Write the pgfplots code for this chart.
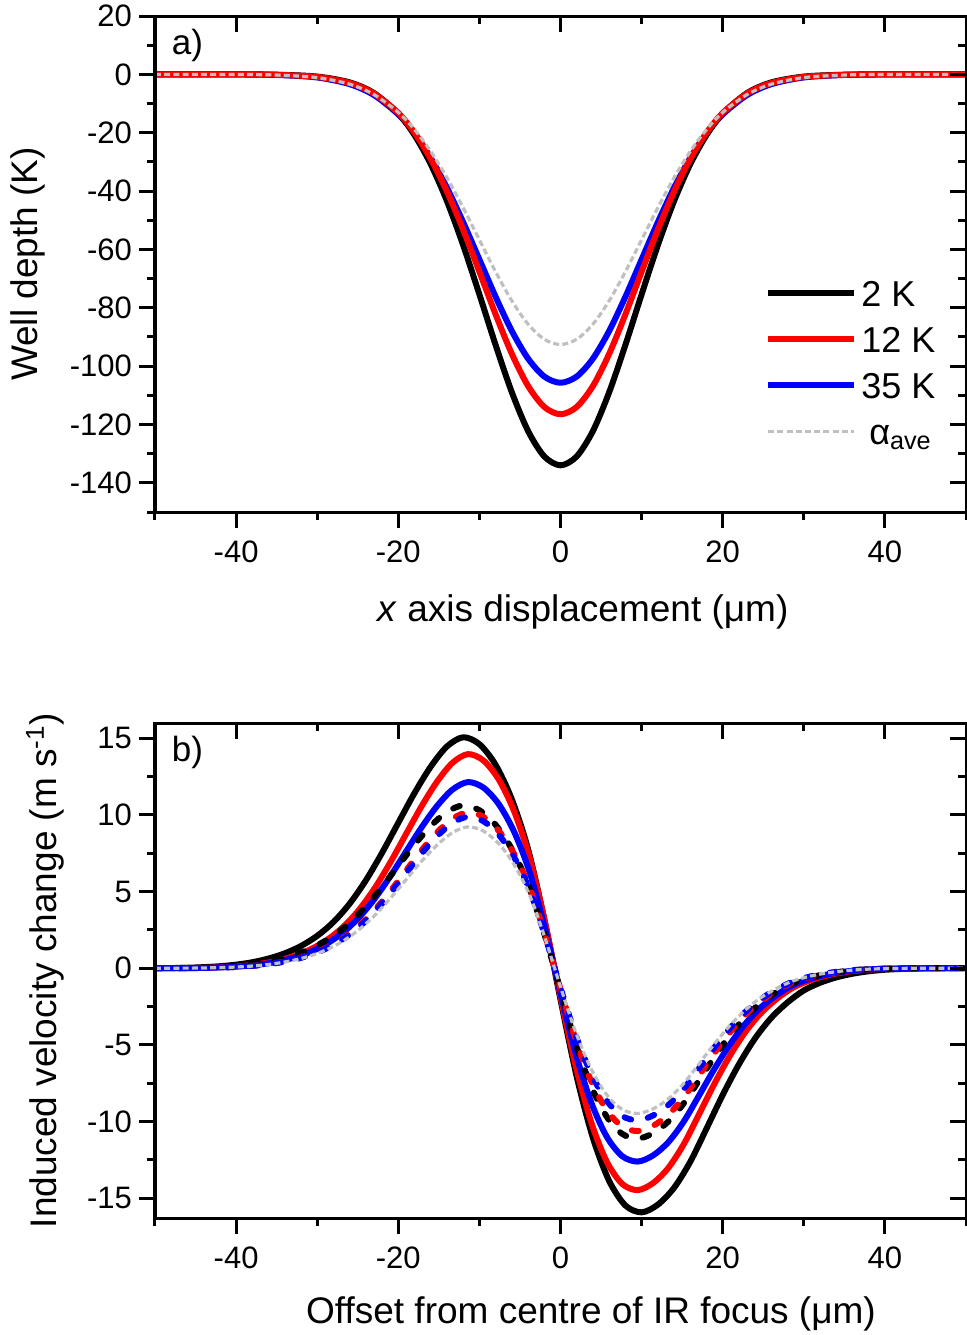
\documentclass[border=0pt]{standalone}
\usepackage{fontspec}
\setmainfont{Liberation Sans}
\usepackage{pgfplots}
\usepackage{pgfplotstable}
\pgfplotsset{compat=1.18}
\definecolor{agray}{HTML}{C0C0C0}
% top panel: well depth (K)
\pgfplotstableread{
x    k2       k12      k35      kave
-50  0        0        0        0
-45  0        0        0        0
-40  -0.01    -0.02    -0.03    -0.04
-35  -0.12    -0.15    -0.20    -0.23
-30  -0.76    -0.88    -1.07    -1.12
-26  -2.75    -2.96    -3.36    -3.37
-23  -6.41    -6.57    -7.11    -6.93
-20  -13.45   -13.25   -13.73   -13.03
-18  -20.82   -20.02   -20.24   -18.92
-16  -30.77   -28.98   -28.63   -26.40
-14  -43.44   -40.15   -38.88   -35.43
-12  -58.57   -53.26   -50.70   -45.71
-10  -75.43   -67.65   -63.46   -56.72
-8   -92.76   -82.27   -76.25   -67.66
-6   -108.96  -95.80   -87.96   -77.62
-4   -122.23  -106.80  -97.41   -85.61
-2   -130.95  -113.99  -103.57  -90.80
0    -134.0   -116.5   -105.7   -92.6
2    -130.95  -113.99  -103.57  -90.80
4    -122.23  -106.80  -97.41   -85.61
6    -108.96  -95.80   -87.96   -77.62
8    -92.76   -82.27   -76.25   -67.66
10   -75.43   -67.65   -63.46   -56.72
12   -58.57   -53.26   -50.70   -45.71
14   -43.44   -40.15   -38.88   -35.43
16   -30.77   -28.98   -28.63   -26.40
18   -20.82   -20.02   -20.24   -18.92
20   -13.45   -13.25   -13.73   -13.03
23   -6.41    -6.57    -7.11    -6.93
26   -2.75    -2.96    -3.36    -3.37
30   -0.76    -0.88    -1.07    -1.12
35   -0.12    -0.15    -0.20    -0.23
40   -0.01    -0.02    -0.03    -0.04
45   0        0        0        0
50   0        0        0        0
}\welltable
% bottom panel: velocity change (m/s); xa for 2 K solid, xb for the others, xc for 2 K dashed
\pgfplotstableread{
xa   xb     xc     bs      rs       us       bd       rd       ud       g
-50  -50    -50    0       0        0        0        0        0        0
-48  -45.6  -48    0.01    0.009    0.008    0.007    0.007    0.007    0.006
-46  -43.7  -46    0.03    0.028    0.024    0.021    0.020    0.020    0.018
-44  -41.8  -44    0.07    0.065    0.056    0.049    0.047    0.046    0.043
-42  -39.9  -42    0.13    0.121    0.105    0.092    0.088    0.085    0.080
-40  -38    -40    0.23    0.213    0.185    0.162    0.155    0.151    0.141
-38  -36.1  -38    0.39    0.362    0.314    0.275    0.263    0.256    0.239
-36  -34.2  -36    0.63    0.584    0.508    0.444    0.425    0.413    0.386
-34  -32.3  -34    0.97    0.899    0.782    0.684    0.655    0.636    0.594
-32  -30.4  -32    1.45    1.344    1.169    1.022    0.979    0.951    0.887
-30  -28.5  -30    2.11    1.956    1.701    1.488    1.424    1.384    1.291
-28  -26.6  -28    3.01    2.790    2.426    2.122    2.032    1.975    1.842
-26  -24.7  -26    4.21    3.903    3.393    2.968    2.842    2.762    2.577
-24  -22.8  -24    5.73    5.312    4.618    4.040    3.868    3.759    3.507
-22  -20.9  -22    7.53    6.980    6.069    5.309    5.083    4.940    4.608
-20  -19    -20    9.49    8.797    7.649    6.690    6.406    6.225    5.808
-18  -17.1  -18    11.43   10.596   9.213    8.058    7.715    7.498    6.995
-16  -15.2  -16    13.15   12.190   10.599   9.271    8.876    8.626    8.048
-14  -13.3  -14    14.47   13.414   11.663   10.201   9.767    9.492    8.856
-12  -11.4  -12    15.07   13.970   12.146   10.624   10.172   9.886    9.223
-10  -9.5   -10    14.62   13.553   11.784   10.307   9.869    9.591    8.947
-8   -7.6   -8     13.27   12.301   10.696   9.355    8.957    8.705    8.121
-6   -5.7   -6     11.02   10.216   8.882    7.769    7.439    7.229    6.744
-4   -3.8   -4     7.77    7.203    6.263    5.478    5.245    5.097    4.755
-2   -1.9   -2     3.20    2.966    2.579    2.256    2.160    2.099    1.958
0    0      0      -2.05   -1.863   -1.624   -1.431   -1.367   -1.277   -1.220
2    1.9    1.9    -7.08   -6.436   -5.607   -4.942   -4.722   -4.411   -4.213
4    3.8    3.8    -11.08  -10.072  -8.775   -7.734   -7.390   -6.903   -6.593
6    5.7    5.7    -13.88  -12.617  -10.993  -9.688   -9.258   -8.647   -8.259
8    7.6    7.6    -15.48  -14.071  -12.260  -10.805  -10.325  -9.644   -9.211
10   9.5    9.5    -15.93  -14.480  -12.617  -11.119  -10.625  -9.924   -9.478
12   11.4   11.4   -15.43  -14.026  -12.221  -10.770  -10.292  -9.613   -9.181
14   13.3   13.3   -14.33  -13.026  -11.349  -10.002  -9.558   -8.928   -8.526
16   15.2   15.2   -12.63  -11.481  -10.003  -8.816   -8.424   -7.868   -7.515
18   17.1   17.1   -10.47  -9.517   -8.292   -7.308   -6.983   -6.523   -6.230
20   19     19     -8.27   -7.517   -6.550   -5.772   -5.516   -5.152   -4.921
22   20.9   20.9   -6.27   -5.699   -4.966   -4.376   -4.182   -3.906   -3.731
24   22.8   22.8   -4.57   -4.154   -3.619   -3.190   -3.048   -2.847   -2.719
26   24.7   24.7   -3.23   -2.936   -2.558   -2.255   -2.154   -2.012   -1.922
28   26.6   26.6   -2.23   -2.027   -1.766   -1.557   -1.487   -1.389   -1.327
30   28.5   28.5   -1.45   -1.318   -1.148   -1.012   -0.967   -0.903   -0.863
32   30.4   30.4   -0.95   -0.864   -0.752   -0.663   -0.634   -0.592   -0.565
34   32.3   32.3   -0.60   -0.545   -0.475   -0.419   -0.400   -0.374   -0.357
36   34.2   34.2   -0.36   -0.327   -0.285   -0.251   -0.240   -0.224   -0.214
38   36.1   36.1   -0.20   -0.182   -0.158   -0.140   -0.133   -0.125   -0.119
40   38     38     -0.10   -0.091   -0.079   -0.070   -0.067   -0.062   -0.060
42   39.9   39.9   -0.05   -0.045   -0.040   -0.035   -0.033   -0.031   -0.030
44   41.8   41.8   -0.02   -0.018   -0.016   -0.014   -0.013   -0.012   -0.012
46   43.7   43.7   -0.01   -0.009   -0.008   -0.007   -0.007   -0.006   -0.006
48   45.6   45.6   0       0        0        0        0        0        0
50   50     50     0       0        0        0        0        0        0
}\veltable
\pgfplotsset{
  base/.style={
    scale only axis, width=405.5pt,
    xmin=-50, xmax=50,
    axis line style={line width=1.5pt},
    tick style={line width=1.5pt, black},
    major tick length=8pt, minor tick length=4pt,
    tick label style={font=\fontsize{15.5}{17}\selectfont},
    xticklabel style={yshift=-3pt},
    /pgf/number format/assume math mode=true,
    xtick={-40,-20,0,20,40}, minor xtick={-50,-30,-10,10,30,50},
    label style={font=\fontsize{18.5}{21}\selectfont},
  },
  topy/.style={height=248pt, ymin=-150, ymax=20, ytick={-140,-120,...,20}, minor ytick={-150,-130,...,10}},
  boty/.style={height=247.5pt, ymin=-16.3, ymax=16, ytick={-15,-10,...,15}, minor ytick={-12.5,-7.5,...,12.5}},
  sol/.style={line width=3pt, line join=round, smooth, no markers},
  dsh/.style={line width=3pt, line cap=round, dash pattern=on 3.5pt off 8.5pt, smooth, no markers},
  gry/.style={agray, line width=1.6pt, dash pattern=on 3pt off 1.6pt, smooth, no markers},
}
\begin{document}
\begin{tikzpicture}
\useasboundingbox (-77.5pt,256pt) rectangle (406pt,-411.5pt);
% ---------------- top panel ----------------
\begin{axis}[base, topy, at={(0pt,0pt)}, anchor=south west,
  tick align=outside, xtick pos=bottom, ytick pos=left,
  xlabel={\textit{x} axis displacement (μm)}, ylabel={Well depth (K)},
  xlabel style={at={(axis description cs:0.5277,-0.2016)}, anchor=center},
  ylabel style={at={(axis description cs:-0.1566,0.5)}, anchor=center},
  legend style={at={(rel axis cs:0.752,0.476)}, anchor=north west, draw=none, fill=none,
    font=\fontsize{18}{20}\selectfont, row sep=6pt, inner sep=0pt,
    nodes={inner sep=2pt, text height=13pt, text depth=0pt}},
  legend cell align=left,
  legend image code/.code={\draw[#1] (0pt,0pt) -- (43pt,0pt);},
]
\addplot[sol, blue, forget plot] table[x=x, y=k35] {\welltable};
\addplot[sol, black, forget plot] table[x=x, y=k2] {\welltable};
\addplot[sol, red, forget plot] table[x=x, y=k12] {\welltable};
\addplot[gry, forget plot] table[x=x, y=kave] {\welltable};
\addlegendimage{black, line width=3pt}
\addlegendentry{2 K}
\addlegendimage{red, line width=3pt}
\addlegendentry{12 K}
\addlegendimage{blue, line width=3pt}
\addlegendentry{35 K}
\addlegendimage{agray, line width=1.6pt, dash pattern=on 3pt off 1.6pt}
\addlegendentry{\hspace{4pt}α\textsubscript{ave}}
\node[anchor=west, font=\fontsize{17.5}{20}\selectfont] at (rel axis cs:0.012,0.94) {a)};
\end{axis}
\begin{axis}[base, topy, at={(0pt,0pt)}, anchor=south west,
  tick align=inside, xtick pos=top, ytick pos=right, xticklabels={}, yticklabels={}]
\end{axis}
% ---------------- bottom panel ----------------
\begin{axis}[base, boty, at={(0pt,-353pt)}, anchor=south west,
  tick align=outside, xtick pos=bottom, ytick pos=left,
  xlabel={Offset from centre of IR focus (μm)}, ylabel={Induced velocity change (m s\textsuperscript{-1})},
  xlabel style={at={(axis description cs:0.5376,-0.194)}, anchor=center},
  ylabel style={at={(axis description cs:-0.1356,0.5)}, anchor=center},
]
\addplot[sol, black] table[x=xa, y=bs] {\veltable};
\addplot[sol, red] table[x=xb, y=rs] {\veltable};
\addplot[sol, blue] table[x=xb, y=us] {\veltable};
\addplot[dsh, black] table[x=xc, y=bd] {\veltable};
\addplot[dsh, red] table[x=xb, y=rd] {\veltable};
\addplot[dsh, blue] table[x=xb, y=ud] {\veltable};
\addplot[gry] table[x=xb, y=g] {\veltable};
\node[anchor=west, font=\fontsize{17.5}{20}\selectfont] at (rel axis cs:0.012,0.94) {b)};
\end{axis}
\begin{axis}[base, boty, at={(0pt,-353pt)}, anchor=south west,
  tick align=inside, xtick pos=top, ytick pos=right, xticklabels={}, yticklabels={}]
\end{axis}
\end{tikzpicture}
\end{document}
